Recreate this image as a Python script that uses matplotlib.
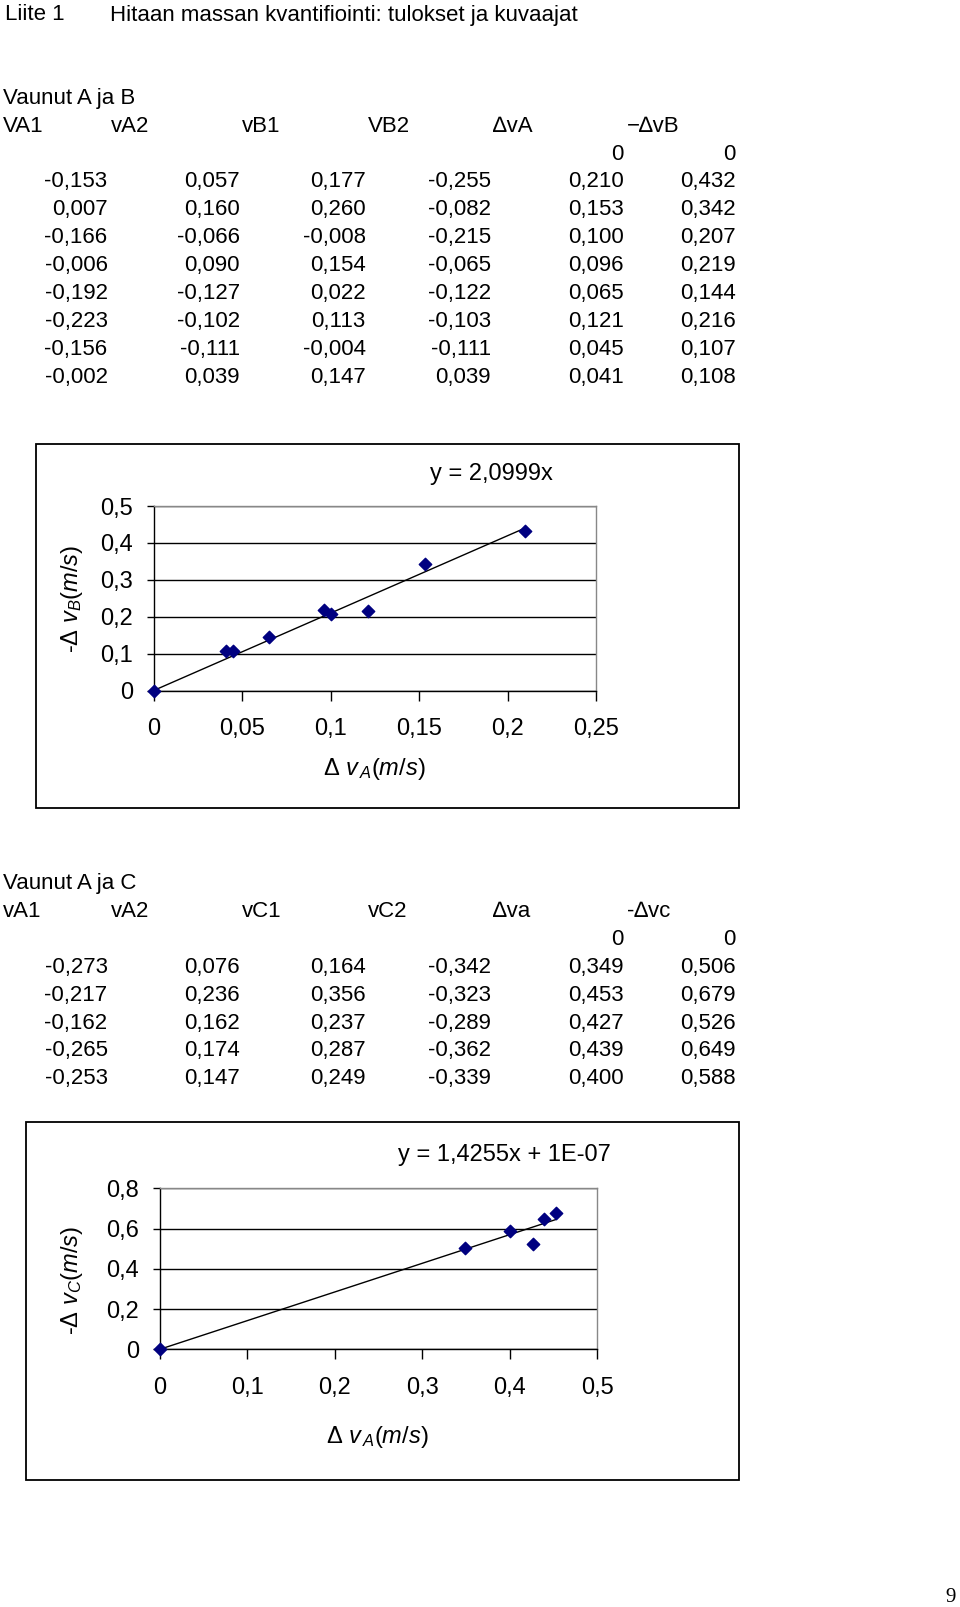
import numpy as np
import matplotlib
matplotlib.use("Agg")
import matplotlib.pyplot as plt
from matplotlib.patches import Rectangle
from matplotlib.ticker import FuncFormatter, MultipleLocator

plt.rcParams['font.family'] = ['Liberation Sans', 'DejaVu Sans']
plt.rcParams['mathtext.fontset'] = 'custom'
plt.rcParams['mathtext.rm'] = 'Liberation Sans'
plt.rcParams['mathtext.it'] = 'Liberation Sans:italic'

# Table 1: carts A and B
headers_ab = ["VA1", "vA2", "vB1", "VB2", "\u2206vA", "\u2212\u2206vB"]
va1_ab = ["-0,153", "0,007", "-0,166", "-0,006", "-0,192", "-0,223", "-0,156", "-0,002"]
va2_ab = ["0,057", "0,160", "-0,066", "0,090", "-0,127", "-0,102", "-0,111", "0,039"]
vb1 = ["0,177", "0,260", "-0,008", "0,154", "0,022", "0,113", "-0,004", "0,147"]
vb2 = ["-0,255", "-0,082", "-0,215", "-0,065", "-0,122", "-0,103", "-0,111", "0,039"]
dva_ab = [0, 0.210, 0.153, 0.100, 0.096, 0.065, 0.121, 0.045, 0.041]
dvb = [0, 0.432, 0.342, 0.207, 0.219, 0.144, 0.216, 0.107, 0.108]
slope_ab = 2.0999

# Table 2: carts A and C
headers_ac = ["vA1", "vA2", "vC1", "vC2", "\u2206va", "-\u2206vc"]
va1_ac = ["-0,273", "-0,217", "-0,162", "-0,265", "-0,253"]
va2_ac = ["0,076", "0,236", "0,162", "0,174", "0,147"]
vc1 = ["0,164", "0,356", "0,237", "0,287", "0,249"]
vc2 = ["-0,342", "-0,323", "-0,289", "-0,362", "-0,339"]
dva_ac = [0, 0.349, 0.453, 0.427, 0.439, 0.400]
dvc = [0, 0.506, 0.679, 0.526, 0.649, 0.588]
slope_ac = 1.4255
icept_ac = 1e-07

W, H = 960, 1607
fig = plt.figure(figsize=(W / 100, H / 100), dpi=100)
fig.patch.set_facecolor('white')

def fx(x):
    return x / W

def fy(y):
    return 1 - y / H

def put(x, y, s, ha='left', size=16, **kw):
    # small shift down: va='center' counts the descent
    fig.text(fx(x), fy(y + 3), s, ha=ha, va='center', fontsize=size, **kw)

def fmt(v):
    return ('%g' % v).replace('.', ',')

def comma3(vals):
    return [("%.3f" % v).replace('.', ',') for v in vals]

put(5, 12, "Liite 1")
put(110, 12, "Hitaan massan kvantifiointi: tulokset ja kuvaajat")

head_x = [3, 110.6, 241.8, 367.8, 492.8, 627]
right_x = [107.6, 239.7, 365.7, 490.7, 623.9, 735.6]

def table(top, title, headers, cols):
    put(3, top, title)
    for x, h in zip(head_x, headers):
        put(x, top + 27.9, h)
    step = 27.9
    y = top + 27.9 + step
    put(right_x[4], y, "0", ha='right')
    put(right_x[5], y, "0", ha='right')
    for i in range(len(cols[0])):
        y = top + 27.9 + step * (i + 2)
        for j, c in enumerate(cols):
            put(right_x[j], y, c[i], ha='right')

table(95.3, "Vaunut A ja B", headers_ab,
      [va1_ab, va2_ab, vb1, vb2, comma3(dva_ab[1:]), comma3(dvb[1:])])
table(880.5, "Vaunut A ja C", headers_ac,
      [va1_ac, va2_ac, vc1, vc2, comma3(dva_ac[1:]), comma3(dvc[1:])])


def chart(box, ax_px, xs, ys, slope, icept, xmax, ymax, xstep, ystep,
          eq, eq_xy, ylab, ylab_xy, xlab_xy):
    x0, y0, x1, y1 = box
    fig.patches.append(Rectangle((fx(x0), fy(y1)), fx(x1 - x0), (y1 - y0) / H,
                                 transform=fig.transFigure, fill=False,
                                 edgecolor='black', linewidth=1.3))
    l, t, r, b = ax_px
    ax = fig.add_axes([fx(l), fy(b), fx(r - l), (b - t) / H])
    ax.set_xlim(0, xmax)
    ax.set_ylim(0, ymax)
    ax.xaxis.set_major_locator(MultipleLocator(xstep))
    ax.yaxis.set_major_locator(MultipleLocator(ystep))
    f = FuncFormatter(lambda v, p: fmt(round(v, 3)))
    ax.xaxis.set_major_formatter(f)
    ax.yaxis.set_major_formatter(f)
    for sp in ['top', 'right']:
        ax.spines[sp].set_color('#888888')
        ax.spines[sp].set_linewidth(1.0)
    for sp in ['left', 'bottom']:
        ax.spines[sp].set_color('black')
        ax.spines[sp].set_linewidth(1.0)
    ax.grid(axis='y', color='black', linewidth=1.0)
    ax.tick_params(axis='x', length=7, width=1, pad=13, labelsize=17)
    ax.tick_params(axis='y', length=5, width=1, pad=10, labelsize=17)
    lx = np.array([0, max(xs)])
    ax.plot(lx, slope * lx + icept, color='black', linewidth=1.0, zorder=3)
    ax.scatter(xs, ys, marker='D', s=40, color='#000080', zorder=4, clip_on=False)
    fig.text(fx(eq_xy[0]), fy(eq_xy[1]), eq, ha='left', va='center', fontsize=17)
    fig.text(fx(ylab_xy[0]), fy(ylab_xy[1]), ylab, ha='center', va='center',
             fontsize=17, rotation=90)
    fig.text(fx(xlab_xy[0]), fy(xlab_xy[1]), r'$\mathit{\Delta\ v_{\,A}(m/s)}$',
             ha='center', va='center', fontsize=17)
    return ax

chart((35.9, 443.6, 738.7, 808.3), (153.7, 506.1, 596.3, 690.5),
      dva_ab, dvb, slope_ab, 0, 0.25, 0.5, 0.05, 0.1,
      "y = 2,0999x", (430.3, 474),
      r'-$\mathit{\Delta\ v_{B}(m/s)}$', (71.7, 599), (374, 769))

chart((25.6, 1121.8, 738.7, 1480.4), (159.8, 1188.4, 597.3, 1349.3),
      dva_ac, dvc, slope_ac, icept_ac, 0.5, 0.8, 0.1, 0.2,
      "y = 1,4255x + 1E-07", (397.5, 1155.5),
      r'-$\mathit{\Delta\ v_{C}(m/s)}$', (71.7, 1280.6), (377, 1437))

fig.text(fx(950.7), fy(1598), "9", ha='center', va='center', fontsize=15,
         family=['Liberation Serif', 'DejaVu Serif'])

fig.savefig("out.png", dpi=100, facecolor='white')
